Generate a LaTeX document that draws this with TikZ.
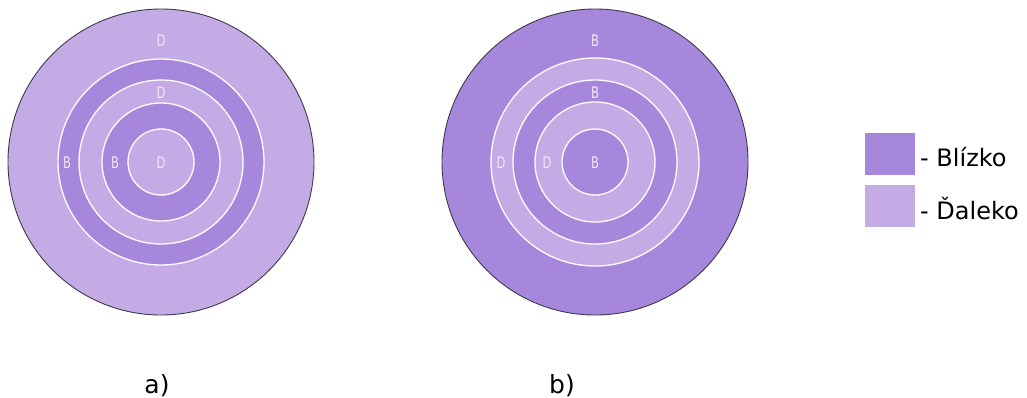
\documentclass[tikz,border=0pt]{standalone}
\usepackage{fontspec}
\setmainfont{DejaVu Sans}
\usetikzlibrary{positioning}
\definecolor{blizko}{HTML}{A687DC}
\definecolor{daleko}{HTML}{C4ABE5}
\definecolor{ringtext}{HTML}{F0E8FA}
\definecolor{rim}{HTML}{3E3A4A}

\begin{document}
\begin{tikzpicture}[
    x=1pt, y=-1pt,
    rim/.style={circle, inner sep=0pt, draw=rim, line width=0.9pt},
    ring/.style={circle, inner sep=0pt, draw=white, line width=1.3pt},
    ringlabel/.style={text=ringtext, inner sep=0pt, xscale=0.72, transform shape, font=\fontsize{16}{16}\selectfont},
    swatch/.style={rectangle, inner sep=0pt, minimum width=50pt, minimum height=42pt},
    legendtext/.style={anchor=base west, inner sep=0pt, font=\fontsize{24}{24}\selectfont},
    caption/.style={anchor=base, inner sep=0pt, font=\fontsize{25}{25}\selectfont},
]
    \useasboundingbox (0,0) rectangle (1027,397);

    % a) target
    \node (a_out) [rim, fill=daleko, minimum size=306pt] at (161,162) {};
    \node (a_r1) [ring, fill=blizko, minimum size=206pt] at (a_out.center) {};
    \node (a_r2) [ring, fill=daleko, minimum size=164pt] at (a_out.center) {};
    \node (a_r3) [ring, fill=blizko, minimum size=118pt] at (a_out.center) {};
    \node (a_r4) [ring, fill=daleko, minimum size=66pt] at (a_out.center) {};

    \node (a_l0) [ringlabel] at (161,41) {D};
    \node (a_l1) [ringlabel] at (67,163) {B};
    \node (a_l2) [ringlabel] at (161,93) {D};
    \node (a_l3) [ringlabel] at (115,163) {B};
    \node (a_l4) [ringlabel] at (161,163) {D};

    % b) target
    \node (b_out) [rim, fill=blizko, minimum size=306pt] at (595,162) {};
    \node (b_r1) [ring, fill=daleko, minimum size=208pt] at (b_out.center) {};
    \node (b_r2) [ring, fill=blizko, minimum size=164pt] at (b_out.center) {};
    \node (b_r3) [ring, fill=daleko, minimum size=120pt] at (b_out.center) {};
    \node (b_r4) [ring, fill=blizko, minimum size=66pt] at (b_out.center) {};

    \node (b_l0) [ringlabel] at (595,41) {B};
    \node (b_l1) [ringlabel] at (501,163) {D};
    \node (b_l2) [ringlabel] at (595,93) {B};
    \node (b_l3) [ringlabel] at (547,163) {D};
    \node (b_l4) [ringlabel] at (595,163) {B};

    % legend
    \node (sw_near) [swatch, fill=blizko] at (890,154) {};
    \node (sw_far) [swatch, fill=daleko, below=10pt of sw_near] {};
    \node (lg_near) [legendtext] at (920,166) {- Blízko};
    \node (lg_far) [legendtext] at (920,219) {- Ďaleko};

    % captions
    \node (cap_a) [caption] at (157,393) {a)};
    \node (cap_b) [caption] at (562,393) {b)};

\end{tikzpicture}
\end{document}
